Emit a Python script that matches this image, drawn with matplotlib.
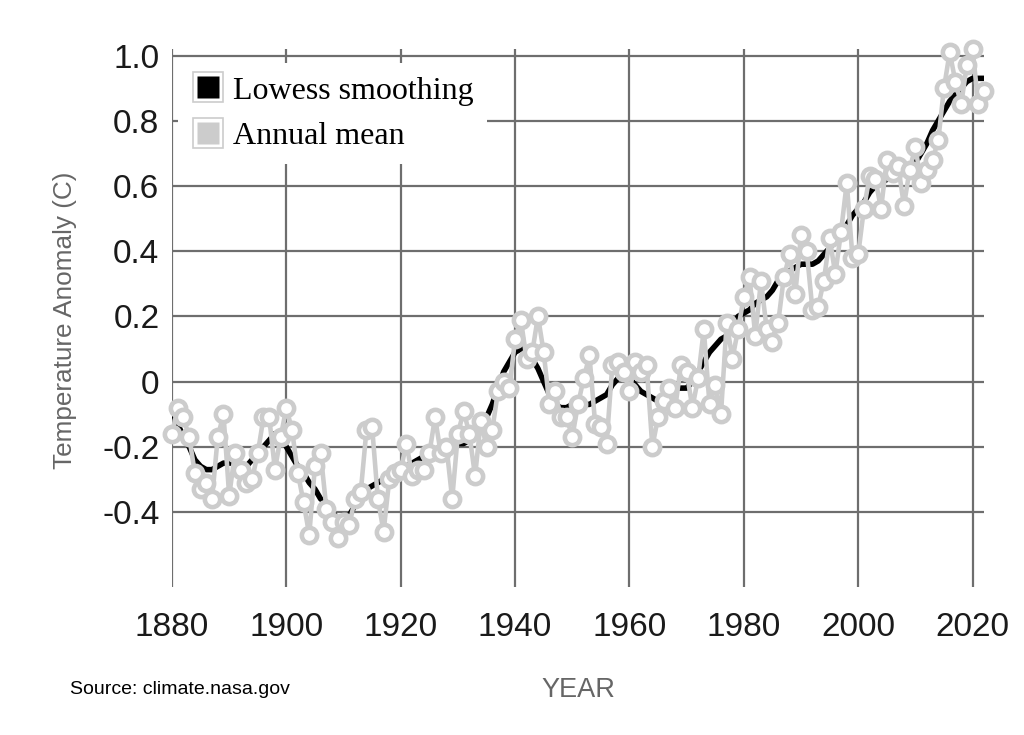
import numpy as np
import matplotlib
matplotlib.use("Agg")
import matplotlib.pyplot as plt
from matplotlib.lines import Line2D
from matplotlib.legend_handler import HandlerTuple

# GISTEMP global temperature anomaly
years = list(range(1880, 2023))
annual_mean = [
    -0.16, -0.08, -0.11, -0.17, -0.28, -0.33, -0.31, -0.36, -0.17, -0.10,
    -0.35, -0.22, -0.27, -0.31, -0.30, -0.22, -0.11, -0.11, -0.27, -0.17,
    -0.08, -0.15, -0.28, -0.37, -0.47, -0.26, -0.22, -0.39, -0.43, -0.48,
    -0.43, -0.44, -0.36, -0.34, -0.15, -0.14, -0.36, -0.46, -0.30, -0.28,
    -0.27, -0.19, -0.29, -0.27, -0.27, -0.22, -0.11, -0.22, -0.20, -0.36,
    -0.16, -0.09, -0.16, -0.29, -0.12, -0.20, -0.15, -0.03, 0.00, -0.02,
    0.13, 0.19, 0.07, 0.09, 0.20, 0.09, -0.07, -0.03, -0.11, -0.11,
    -0.17, -0.07, 0.01, 0.08, -0.13, -0.14, -0.19, 0.05, 0.06, 0.03,
    -0.03, 0.06, 0.03, 0.05, -0.20, -0.11, -0.06, -0.02, -0.08, 0.05,
    0.03, -0.08, 0.01, 0.16, -0.07, -0.01, -0.10, 0.18, 0.07, 0.16,
    0.26, 0.32, 0.14, 0.31, 0.16, 0.12, 0.18, 0.32, 0.39, 0.27,
    0.45, 0.40, 0.22, 0.23, 0.31, 0.44, 0.33, 0.46, 0.61, 0.38,
    0.39, 0.53, 0.63, 0.62, 0.53, 0.68, 0.64, 0.66, 0.54, 0.65,
    0.72, 0.61, 0.65, 0.68, 0.74, 0.90, 1.01, 0.92, 0.85, 0.97,
    1.02, 0.85, 0.89,
]
lowess = [
    -0.09, -0.13, -0.17, -0.20, -0.24, -0.26, -0.27, -0.27, -0.26, -0.25,
    -0.25, -0.25, -0.26, -0.26, -0.24, -0.22, -0.20, -0.18, -0.16, -0.17,
    -0.20, -0.23, -0.26, -0.28, -0.31, -0.33, -0.36, -0.37, -0.40, -0.42,
    -0.42, -0.41, -0.38, -0.35, -0.33, -0.32, -0.31, -0.30, -0.30, -0.28,
    -0.27, -0.26, -0.25, -0.24, -0.23, -0.22, -0.21, -0.21, -0.21, -0.20,
    -0.19, -0.19, -0.18, -0.16, -0.14, -0.11, -0.07, -0.02, 0.03, 0.06,
    0.09, 0.10, 0.10, 0.07, 0.04, 0.00, -0.04, -0.07, -0.08, -0.08,
    -0.07, -0.07, -0.07, -0.07, -0.06, -0.05, -0.04, -0.01, 0.01, 0.03,
    0.01, -0.01, -0.03, -0.04, -0.05, -0.06, -0.05, -0.03, -0.02, -0.02,
    -0.02, 0.00, 0.03, 0.06, 0.09, 0.11, 0.13, 0.14, 0.17, 0.20,
    0.21, 0.22, 0.24, 0.25, 0.26, 0.28, 0.31, 0.33, 0.34, 0.35,
    0.36, 0.36, 0.36, 0.37, 0.39, 0.41, 0.43, 0.46, 0.48, 0.51,
    0.53, 0.55, 0.58, 0.60, 0.61, 0.62, 0.63, 0.64, 0.65, 0.66,
    0.67, 0.70, 0.73, 0.77, 0.80, 0.83, 0.86, 0.88, 0.90, 0.92,
    0.93, 0.93, 0.93,
]
x_ticks = [1880, 1900, 1920, 1940, 1960, 1980, 2000, 2020]
y_ticks = [-0.4, -0.2, 0, 0.2, 0.4, 0.6, 0.8, 1.0]
y_tick_labels = ["-0.4", "-0.2", "0", "0.2", "0.4", "0.6", "0.8", "1.0"]

LIGHT = "#cccccc"
GRID = "#6e6e6e"

fig = plt.figure(figsize=(10.24, 7.35), dpi=100)
ax = fig.add_axes([172 / 1024, 148 / 735, 812 / 1024, 538 / 735])

ax.plot(years, lowess, color="black", lw=4, zorder=3)
ax.plot(years, annual_mean, color=LIGHT, lw=3.3, marker="o", ms=11,
        markerfacecolor="white", markeredgecolor=LIGHT, mew=3.3, zorder=4,
        clip_on=False)

ax.set_xlim(1880, 2022)
ax.set_ylim(-0.63, 1.02)
ax.set_xticks(x_ticks)
ax.set_yticks(y_ticks)
ax.set_yticklabels(y_tick_labels)
for s in ax.spines.values():
    s.set_visible(False)
ax.tick_params(length=0, labelsize=24, colors="#1a1a1a")
ax.tick_params(axis="x", pad=18)
ax.tick_params(axis="y", pad=9)
for lbl in ax.get_xticklabels() + ax.get_yticklabels():
    lbl.set_fontfamily("Liberation Sans")

ax.grid(True, color=GRID, lw=1.6, zorder=1)
ax.set_axisbelow(True)

def square(face):
    outer = Line2D([], [], ls="none", marker="s", ms=22, markerfacecolor="white",
                   markeredgecolor=LIGHT, mew=1.2)
    inner = Line2D([], [], ls="none", marker="s", ms=15.5, markerfacecolor=face,
                   markeredgecolor="none")
    return (outer, inner)

leg = ax.legend([square("black"), square(LIGHT)], ["Lowess smoothing", "Annual mean"],
                handler_map={tuple: HandlerTuple(ndivide=1)},
                loc="upper left", bbox_to_anchor=(-0.001, 0.985),
                prop={"family": "Liberation Serif", "size": 23},
                frameon=True, facecolor="white", edgecolor="none", framealpha=1,
                fancybox=False, handlelength=1.1, handletextpad=0.25,
                labelspacing=0.5, borderpad=0.4, borderaxespad=0.2)
leg.set_zorder(5)

fig.text(65 / 1024, 1 - 320 / 735, "Temperature Anomaly (C)", rotation=90,
         ha="center", va="center", fontsize=18.8, color="#666666",
         family="Liberation Sans")
fig.text(578 / 1024, 1 - 690 / 735, "YEAR", ha="center", va="center",
         fontsize=19.5, color="#666666", family="Liberation Sans")
fig.text(70 / 1024, 1 - 690 / 735, "Source: climate.nasa.gov", ha="left",
         va="center", fontsize=14, color="black", family="Liberation Sans")

fig.savefig("out.png", dpi=100)
